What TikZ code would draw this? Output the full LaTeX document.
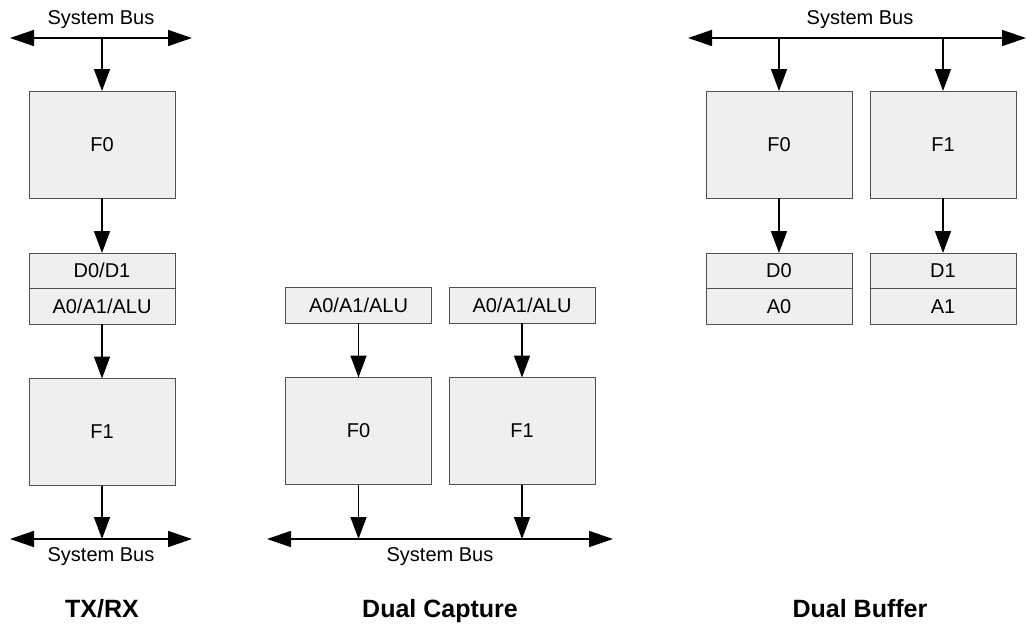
\documentclass[tikz,border=0pt]{standalone}
\usepackage{fontspec}
\setmainfont{Liberation Sans}
\usetikzlibrary{arrows.meta,positioning}
\definecolor{boxfill}{HTML}{EFEFEF}
\definecolor{boxline}{HTML}{505050}

\begin{document}
\begin{tikzpicture}[
  x=1pt, y=-1pt,
  font=\fontsize{20}{24}\selectfont,
  fifo/.style={draw=boxline, fill=boxfill, line width=1pt, outer sep=0pt, inner sep=0pt, minimum width=146pt, minimum height=107pt},
  reg/.style={draw=boxline, fill=boxfill, line width=1pt, outer sep=0pt, inner sep=0pt, minimum width=146pt, minimum height=35.5pt},
  arrow/.style={-{Triangle[length=22pt,width=16pt]}, line width=1.5pt},
  bus/.style={{Triangle[length=24pt,width=16pt]}-{Triangle[length=24pt,width=16pt]}, line width=1.5pt},
  title/.style={font=\bfseries\fontsize{25}{30}\selectfont, anchor=base}
]
\useasboundingbox (0,0) rectangle (1027,627);

% TX/RX
\node[fifo] (tf0) at (102,144.5) {F0};
\node[reg, anchor=north] (td) at (102,253) {D0/D1};
\node[reg, anchor=north] (ta) at (td.south) {A0/A1/ALU};
\node[fifo] (tf1) at (102,432) {F1};
\coordinate (ttopL) at (10,38);
\coordinate (ttopR) at (192,38);
\coordinate (tbotL) at (10,539);
\coordinate (tbotR) at (192,539);
\node (ttopbus) at (101,20) {System Bus};
\node (tbotbus) at (101,557) {System Bus};
\node[title] (ttitle) at (102,617) {TX/RX};

% Dual Capture
\node[reg] (ca0) at (358.5,305.5) {A0/A1/ALU};
\node[reg] (ca1) at (522,305.5) {A0/A1/ALU};
\node[fifo] (cf0) at (358.5,431) {F0};
\node[fifo] (cf1) at (522,431) {F1};
\coordinate (cbusL) at (267,539);
\coordinate (cbusR) at (613,539);
\node (cbus) at (440,557) {System Bus};
\node[title] (ctitle) at (440,617) {Dual Capture};

% Dual Buffer
\node[fifo] (bf0) at (779,144.5) {F0};
\node[fifo] (bf1) at (943,144.5) {F1};
\node[reg, anchor=north] (bd0) at (779,253) {D0};
\node[reg, anchor=north] (ba0) at (bd0.south) {A0};
\node[reg, anchor=north] (bd1) at (943,253) {D1};
\node[reg, anchor=north] (ba1) at (bd1.south) {A1};
\coordinate (bbusL) at (688,38);
\coordinate (bbusR) at (1026,38);
\node (bbus) at (860,20) {System Bus};
\node[title] (btitle) at (860,617) {Dual Buffer};

% buses
\foreach \l/\r in {ttopL/ttopR, tbotL/tbotR, cbusL/cbusR, bbusL/bbusR}
  \draw[bus] (\l) -- (\r);
% arrows
\foreach \x/\y in {tf0/td, ta/tf1, ca0/cf0, ca1/cf1, bf0/bd0, bf1/bd1}
  \draw[arrow] (\x) -- (\y);
\foreach \n/\b in {tf0/ttopL, bf0/bbusL, bf1/bbusL}
  \draw[arrow] (\n.north |- \b) -- (\n);
\foreach \n/\b in {tf1/tbotL, cf0/cbusL, cf1/cbusL}
  \draw[arrow] (\n) -- (\n.south |- \b);
\end{tikzpicture}
\end{document}
